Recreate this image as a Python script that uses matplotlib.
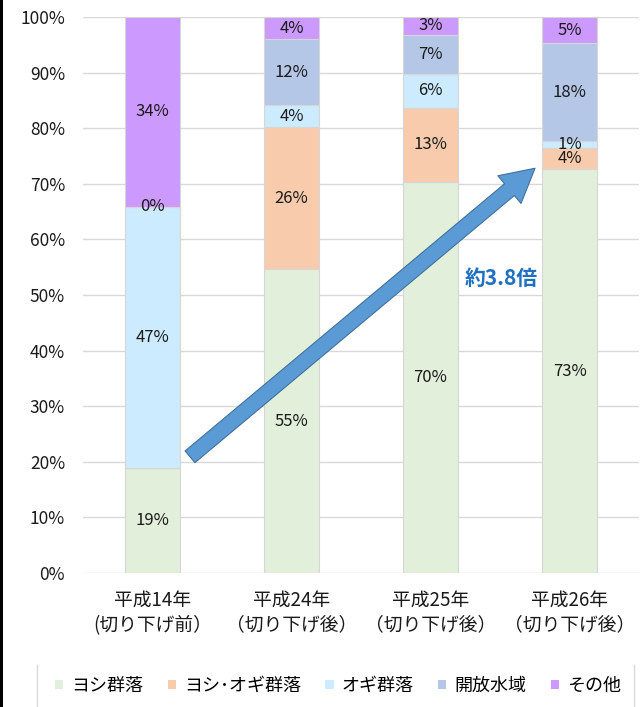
"""Stacked share of plant communities before and after cutting."""

import numpy as np
import matplotlib.pyplot as plt
from matplotlib.patches import FancyArrowPatch, Rectangle
from matplotlib.lines import Line2D

plt.rcParams['font.family'] = ['Noto Sans CJK JP', 'DejaVu Sans']

categories = ["平成14年\n(切り下げ前）", "平成24年\n（切り下げ後）",
              "平成25年\n（切り下げ後）", "平成26年\n（切り下げ後）"]
series_names = ["ヨシ群落", "ヨシ･オギ群落", "オギ群落", "開放水域", "その他"]

yoshi = [18.9, 54.6, 70.4, 72.6]
yoshi_ogi = [np.nan, 25.6, 13.3, 3.9]
ogi = [47.0, 3.9, 6.0, 1.2]
open_water = [0.0, 11.9, 7.1, 17.6]
other = [34.1, 4.0, 3.2, 4.7]

colors = ["#E2EFDA", "#F8CBAD", "#CCEBFF", "#B4C7E7", "#CC99FF"]

series = [yoshi, yoshi_ogi, ogi, open_water, other]

fig = plt.figure(figsize=(6.4, 7.07), dpi=100)
ax = fig.add_axes([83 / 640, 1 - 573 / 707, 556 / 640, 556 / 707])

x = np.arange(len(categories))
bottom = np.zeros(len(categories))
handles = []
for name, vals, col in zip(series_names, series, colors):
    vals = np.array(vals, dtype=float)
    h = np.nan_to_num(vals)
    ax.bar(x, h, 0.4, bottom=bottom, color=col, edgecolor="#D6D6D6",
           linewidth=0.8, zorder=2)
    for xi, v, b in zip(x, vals, bottom):
        if np.isnan(v):
            continue
        ax.text(xi, b + v / 2, f"{v:.0f}%", ha="center", va="center",
                fontsize=12, color="#1A1A1A", zorder=4)
    bottom += h
    handles.append(Rectangle((0, 0), 1, 1, facecolor=col, edgecolor="none"))

ax.set_xlim(-0.5, 3.5)
ax.set_ylim(0, 100)
ax.set_yticks(np.arange(0, 101, 10))
ax.set_yticklabels([f"{t}%" for t in range(0, 101, 10)], fontsize=12.5)
ax.set_xticks(x)
ax.set_xticklabels(categories, fontsize=13.5, linespacing=1.25)
ax.tick_params(axis="both", length=0, colors="#1A1A1A")
ax.tick_params(axis="y", pad=13)
ax.tick_params(axis="x", pad=12)
ax.grid(axis="y", color="#D9D9D9", linewidth=1, zorder=0)
for s in ax.spines.values():
    s.set_visible(False)

# growth arrow
arrow = FancyArrowPatch((0.27, 20.9), (2.752, 72.8),
                        arrowstyle="simple,head_length=24,head_width=26,tail_width=11",
                        mutation_scale=1, shrinkA=0, shrinkB=0,
                        facecolor="#5B9BD5", edgecolor="#41719C", linewidth=0.8,
                        zorder=5)
ax.add_patch(arrow)
ax.text(2.507, 53.0, "約3.8倍", ha="center", va="center", fontsize=15,
        fontweight="bold", color="#1F70C1", zorder=6)

fig.legend(handles, series_names, loc="center", bbox_to_anchor=(338 / 640, 1 - 686 / 707),
           ncol=5, frameon=False, fontsize=13, handlelength=0.45, handleheight=0.45,
           handletextpad=0.45, columnspacing=1.35)

# legend side borders and left edge rule
for xl in (37 / 640, 634 / 640):
    fig.add_artist(Line2D([xl, xl], [0, 1 - 665 / 707], color="#D9D9D9",
                          linewidth=1, transform=fig.transFigure))
fig.add_artist(Rectangle((0, 0), 3 / 640, 1, transform=fig.transFigure,
                         facecolor="black", edgecolor="none"))

fig.savefig("out.png", dpi=100)
